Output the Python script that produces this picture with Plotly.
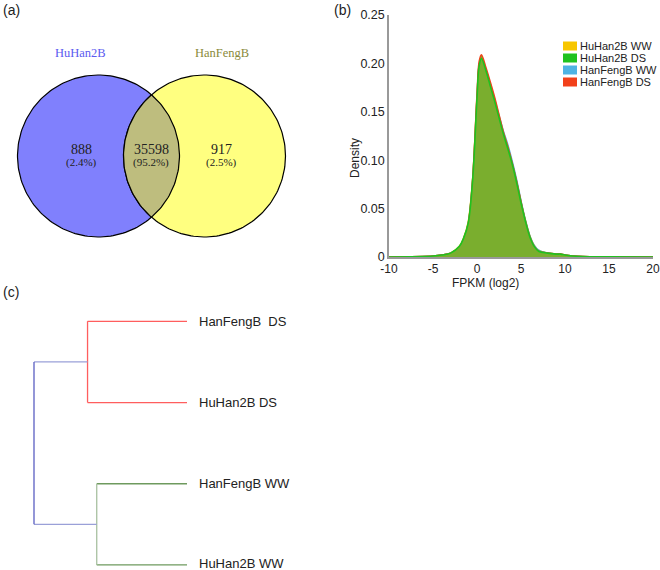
import numpy as np
import plotly.graph_objects as go

# ---- data ----
# (a) venn
venn_names = ["HuHan2B", "HanFengB"]
venn_counts = [888, 35598, 917]          # left only, shared, right only
venn_pct = ["(2.4%)", "(95.2%)", "(2.5%)"]

# (b) density of FPKM (log2)
fpkm = [-10, -5, -4, -3, -2, -1.5, -1, -0.5, 0, 0.25, 0.5, 1, 1.5, 2, 2.5,
        3, 3.5, 4, 4.5, 5, 5.5, 6, 6.5, 7, 8, 9, 9.5, 10, 12, 15, 20]
dens_hw = [0, 0.001, 0.002, 0.004, 0.011, 0.02, 0.036, 0.08, 0.165, 0.198,
           0.205, 0.193, 0.178, 0.162, 0.145, 0.128, 0.113, 0.097, 0.078, 0.057,
           0.038, 0.022, 0.012, 0.007, 0.004, 0.003, 0.003, 0.002, 0.0004, 0.0001, 0]
dens_hd = [0, 0.001, 0.002, 0.004, 0.011, 0.02, 0.035, 0.079, 0.164, 0.198,
           0.205, 0.193, 0.177, 0.161, 0.144, 0.127, 0.112, 0.096, 0.077, 0.056,
           0.037, 0.021, 0.011, 0.006, 0.004, 0.003, 0.003, 0.002, 0.0004, 0.0001, 0]
dens_fw = [0, 0.001, 0.002, 0.004, 0.01, 0.019, 0.034, 0.078, 0.163, 0.199,
           0.206, 0.194, 0.179, 0.163, 0.146, 0.13, 0.116, 0.099, 0.08, 0.058,
           0.038, 0.022, 0.012, 0.007, 0.004, 0.003, 0.003, 0.002, 0.0004, 0.0001, 0]
dens_fd = [0, 0.001, 0.002, 0.004, 0.01, 0.019, 0.034, 0.079, 0.167, 0.202,
           0.209, 0.196, 0.181, 0.165, 0.147, 0.129, 0.114, 0.097, 0.078, 0.057,
           0.037, 0.021, 0.011, 0.006, 0.004, 0.003, 0.003, 0.002, 0.0004, 0.0001, 0]
series = ["HuHan2B WW", "HuHan2B DS", "HanFengB WW", "HanFengB DS"]
series_colors = ["#f7c600", "#1fc21f", "#4fb3e3", "#f2401a"]

# (c) dendrogram
leaves = ["HanFengB  DS", "HuHan2B DS", "HanFengB WW", "HuHan2B WW"]
h_ds = 0.65      # merge height of the DS pair
h_ww = 0.59      # merge height of the WW pair
h_root = 1.0

W, H = 660, 570
fig = go.Figure()

# ---- (a) venn, drawn in pixel units ----
cx = [98.5, 204.5]
cy, r = 156, 81
t = np.linspace(0, 2 * np.pi, 200)
fig.add_trace(go.Scatter(x=cx[0] + r * np.cos(t), y=cy + r * np.sin(t), fill="toself",
                         fillcolor="#8080fd", line=dict(color="black", width=1.2),
                         mode="lines", xaxis="x2", yaxis="y2", showlegend=False, hoverinfo="skip"))
fig.add_trace(go.Scatter(x=cx[1] + r * np.cos(t), y=cy + r * np.sin(t), fill="toself",
                         fillcolor="#ffff80", line=dict(color="black", width=1.2),
                         mode="lines", xaxis="x2", yaxis="y2", showlegend=False, hoverinfo="skip"))
# lens
d = cx[1] - cx[0]
a = np.arccos(d / 2 / r)
t1 = np.linspace(-a, a, 60)                 # arc of left circle
t2 = np.linspace(np.pi - a, np.pi + a, 60)  # arc of right circle
lx = np.concatenate([cx[0] + r * np.cos(t1), cx[1] + r * np.cos(t2)])
ly = np.concatenate([cy + r * np.sin(t1), cy + r * np.sin(t2)])
fig.add_trace(go.Scatter(x=lx, y=ly, fill="toself", fillcolor="#bebd7e",
                         line=dict(color="black", width=1.2), mode="lines",
                         xaxis="x2", yaxis="y2", showlegend=False, hoverinfo="skip"))

serif = "Liberation Serif"
ann = []
ann.append(dict(x=80, y=53, text=venn_names[0], xref="x2", yref="y2", showarrow=False,
                font=dict(family=serif, size=12.5, color="#5b5bf0")))
ann.append(dict(x=222, y=53, text=venn_names[1], xref="x2", yref="y2", showarrow=False,
                font=dict(family=serif, size=12.5, color="#8a8a3a")))
for xx, c, p in zip([81, 151, 221], venn_counts, venn_pct):
    ann.append(dict(x=xx, y=149, text=str(c), xref="x2", yref="y2", showarrow=False,
                    font=dict(family=serif, size=14, color="#222")))
    ann.append(dict(x=xx, y=162, text=p, xref="x2", yref="y2", showarrow=False,
                    font=dict(family=serif, size=11, color="#222")))

# ---- (b) density ----
dens = [dens_hw, dens_hd, dens_fw, dens_fd]
order = [0, 2, 3, 1]
for i in order:
    fig.add_trace(go.Scatter(x=fpkm, y=dens[i], mode="lines",
                             line=dict(color=series_colors[i], width=1.6, shape="spline"),
                             fill="tozeroy", fillcolor="#7aae2e", showlegend=False, hoverinfo="skip"))

# hand-made legend (small colour blocks)
shapes = []
for k, (name, col) in enumerate(zip(series, series_colors)):
    yc = 46 + 12 * k
    shapes.append(dict(type="rect", xref="paper", yref="paper", x0=563 / W, x1=577 / W,
                       y0=1 - (yc + 4.5) / H, y1=1 - (yc - 4.5) / H, fillcolor=col, line_width=0))
    ann.append(dict(x=578 / W, y=1 - yc / H, xref="paper", yref="paper", text=name, showarrow=False,
                    xanchor="left", yanchor="middle", font=dict(family="Liberation Sans", size=11, color="#222")))

# ---- (c) dendrogram ----
def link(x0, y0, x1, y1, col):
    fig.add_trace(go.Scatter(x=[x0, x1], y=[y0, y1], mode="lines", line=dict(color=col, width=1.3),
                             xaxis="x3", yaxis="y3", showlegend=False, hoverinfo="skip"))

red, green, blue = "#ff5e5e", "#6e9a5e", "#5a5fc2"
# DS pair
link(0, 0, h_ds, 0, red)
link(0, 1, h_ds, 1, red)
link(h_ds, 0, h_ds, 1, red)
# WW pair
link(0, 2, h_ww, 2, green)
link(0, 3, h_ww, 3, green)
link(h_ww, 2, h_ww, 3, "#a8c0a0")
# root
link(h_ds, 0.5, h_root, 0.5, "#9aa0d8")
link(h_ww, 2.5, h_root, 2.5, "#9aa0d8")
link(h_root, 0.5, h_root, 2.5, blue)
for i, lab in enumerate(leaves):
    ann.append(dict(x=0, y=i, xref="x3", yref="y3", text=lab, showarrow=False, xanchor="left",
                    xshift=10, yshift=1 if i == 3 else 0,
                    font=dict(family="Liberation Sans", size=13, color="#222")))

# panel labels
for lab, px, py in [("(a)", 1, 10), ("(b)", 332, 10), ("(c)", 1, 292)]:
    ann.append(dict(x=px / W, y=1 - py / H, xref="paper", yref="paper", text=lab, showarrow=False,
                    xanchor="left", yanchor="middle", font=dict(family="Liberation Sans", size=14, color="#222")))

ann.append(dict(x=(389 + 653) / 2 / W, y=1 - 283 / H, xref="paper", yref="paper", text="FPKM (log2)",
                showarrow=False, font=dict(family="Liberation Sans", size=12, color="#222")))
ann.append(dict(x=355 / W, y=1 - 136 / H, xref="paper", yref="paper", text="Density", textangle=-90,
                showarrow=False, font=dict(family="Liberation Sans", size=12, color="#222")))

hidden = dict(visible=False, showgrid=False, zeroline=False)
ds_pad = 0.1
fig.update_layout(
    width=W, height=H, margin=dict(l=0, r=0, t=0, b=0, autoexpand=False),
    paper_bgcolor="white", plot_bgcolor="white",
    font=dict(family="Liberation Sans", size=12, color="#222"),
    annotations=ann, shapes=shapes, showlegend=False,
    xaxis=dict(domain=[389 / W, 653 / W], range=[-10, 20], tickvals=[-10, -5, 0, 5, 10, 15, 20],
               ticktext=["-10", "-5", "0", "5", "10", "15", "20"],
               showgrid=False, zeroline=False, showline=True, linecolor="#999", linewidth=1.5,
               ticks="", ticklen=0, tickfont=dict(size=12)),
    yaxis=dict(domain=[1 - 257 / H, 1 - 15 / H], range=[0, 0.25],
               tickvals=[0, 0.05, 0.1, 0.15, 0.2, 0.25],
               ticktext=["0", "0.05", "0.10", "0.15", "0.20", "0.25"],
               showgrid=False, zeroline=False, showline=True, linecolor="#999", linewidth=1.5,
               ticks="", ticklen=0, tickfont=dict(size=12.5)),
    xaxis2=dict(domain=[0, 330 / W], range=[0, 330], anchor="y2", **hidden),
    yaxis2=dict(domain=[1 - 290 / H, 1], range=[290, 0], anchor="x2", **hidden),
    xaxis3=dict(domain=[(34 - 153 * ds_pad) / W, (187 + 153 * ds_pad) / W],
                range=[h_root + ds_pad, -ds_pad], anchor="y3", **hidden),
    yaxis3=dict(domain=[1 - 569 / H, 1 - 297 / H], range=[3.05, -0.3], anchor="x3", **hidden),
)

# drop the page's default body margin so the figure sits at the window's corner
fig.write_html("out.html", config={"displayModeBar": False},
               post_script="document.body.style.margin='0';")
